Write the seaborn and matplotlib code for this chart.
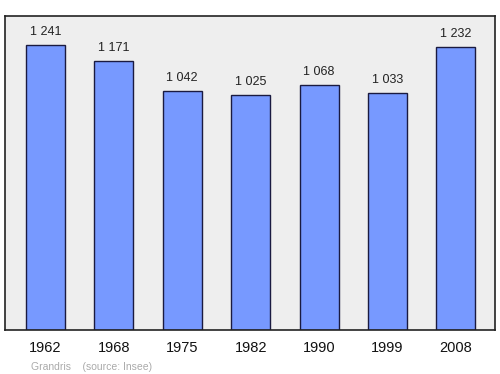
import matplotlib
matplotlib.use("Agg")
import matplotlib.pyplot as plt
import seaborn as sns
import pandas as pd

years = ["1962", "1968", "1975", "1982", "1990", "1999", "2008"]
population = [1241, 1171, 1042, 1025, 1068, 1033, 1232]
labels = ["1 241", "1 171", "1 042", "1 025", "1 068", "1 033", "1 232"]

df = pd.DataFrame({"year": years, "pop": population})

sns.set_style("white")
plt.rcParams["font.family"] = ["Liberation Sans", "DejaVu Sans"]

fig = plt.figure(figsize=(5, 3.74), dpi=100)
ax = fig.add_axes([0.01, 0.1176, 0.98, 0.8396])
ax.set_facecolor("#eeeeee")

sns.barplot(data=df, x="year", y="pop", ax=ax, color="#7799ff", saturation=1,
            width=0.57, edgecolor="#1a1a40", linewidth=1)

for i, (v, t) in enumerate(zip(population, labels)):
    ax.annotate(t, (i, v), xytext=(0, 5), textcoords="offset points",
                ha="center", va="bottom", fontsize=9, color="#222222")

ax.set_xlim(-0.59, 6.57)
ax.set_ylim(0, 1367)
ax.set_yticks([])
ax.set_xlabel("")
ax.set_ylabel("")
ax.tick_params(axis="x", length=0, pad=8, labelsize=10.5, colors="#111111")
for s in ax.spines.values():
    s.set_color("#222222")
    s.set_linewidth(1.2)

fig.text(0.062, 0.011, "Grandris    (source: Insee)", fontsize=7.5, color="#aaaaaa")

fig.savefig("out.png", dpi=100)
